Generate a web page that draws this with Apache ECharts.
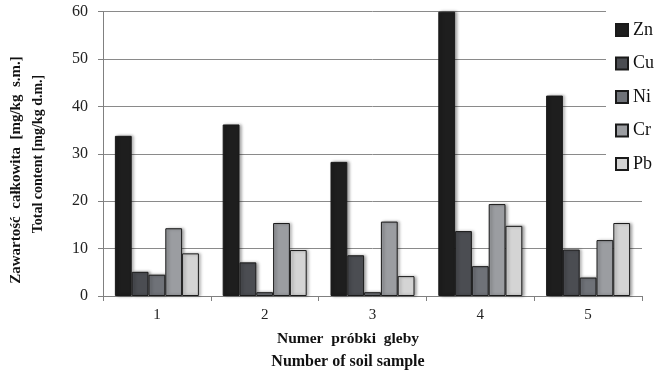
<!DOCTYPE html>
<html>
<head>
<meta charset="utf-8">
<script src="https://cdn.jsdelivr.net/npm/echarts@6/dist/echarts.min.js"></script>
<style>html,body{margin:0;padding:0;background:#fff}#c{width:662px;height:374px}</style>
</head>
<body>
<div id="c"></div>
<script>
var categories = ['1', '2', '3', '4', '5'];
var seriesNames = ['Zn', 'Cu', 'Ni', 'Cr', 'Pb'];
var zn = [33.8, 36.2, 28.3, 60, 42.3];
var cu = [5.1, 7.1, 8.6, 13.7, 9.8];
var ni = [4.5, 0.8, 0.8, 6.3, 3.9];
var cr = [14.3, 15.4, 15.7, 19.4, 11.8];
var pb = [9.0, 9.7, 4.2, 14.8, 15.4];
var yTicks = [0, 10, 20, 30, 40, 50, 60];

var values = [zn, cu, ni, cr, pb];
var colors = ['#1e1e1e', '#4b4d52', '#6f7278', '#9b9da1', '#d4d4d4'];
var FONT = '"Liberation Serif", "Times New Roman", serif';

var chart = echarts.init(document.getElementById('c'), null, {renderer: 'canvas'});
var series = seriesNames.map(function (n, i) {
  return {
    name: n,
    type: 'bar',
    data: values[i],
    barWidth: 16.8,
    barGap: '0%',
    itemStyle: {
      color: colors[i],
      borderColor: '#1a1a1a',
      borderWidth: 1,
      shadowColor: 'rgba(0,0,0,0.35)',
      shadowBlur: 3,
      shadowOffsetX: 2,
      shadowOffsetY: 0
    }
  };
});

chart.setOption({
  animation: false,
  backgroundColor: '#fff',
  grid: {left: 103, right: 20, top: 11.7, bottom: 78, containLabel: false},
  xAxis: {
    type: 'category',
    data: categories,
    axisLine: {lineStyle: {color: '#808080', width: 1}},
    axisTick: {show: true, length: 5, lineStyle: {color: '#808080'}},
    axisLabel: {fontFamily: FONT, fontSize: 15, color: '#222', margin: 12}
  },
  yAxis: {
    type: 'value',
    min: yTicks[0],
    max: yTicks[yTicks.length - 1],
    interval: 10,
    axisLine: {show: true, lineStyle: {color: '#808080', width: 1}},
    axisTick: {show: true, length: 5, lineStyle: {color: '#808080'}},
    splitLine: {lineStyle: {color: '#8a8a8a', width: 1}},
    axisLabel: {fontFamily: FONT, fontSize: 16, color: '#222', margin: 15}
  },
  legend: {
    orient: 'vertical',
    left: 606,
    top: 11,
    padding: [10, 6, 12, 9],
    backgroundColor: '#fff',
    itemWidth: 12,
    itemHeight: 12,
    itemGap: 15.5,
    icon: 'rect',
    data: seriesNames,
    textStyle: {fontFamily: FONT, fontSize: 18, color: '#111'}
  },
  graphic: [
    {
      type: 'text', x: 16, y: 170, rotation: Math.PI / 2,
      style: {text: 'Zawartość  całkowita  [mg/kg  s.m.]', fontFamily: FONT, fontWeight: 'bold', fontSize: 15, fill: '#111', align: 'center', verticalAlign: 'middle'}
    },
    {
      type: 'text', x: 38, y: 154, rotation: Math.PI / 2,
      style: {text: 'Total content [mg/kg d.m.]', fontFamily: FONT, fontWeight: 'bold', fontSize: 14, fill: '#111', align: 'center', verticalAlign: 'middle'}
    },
    {
      type: 'text', x: 348, y: 339,
      style: {text: 'Numer  próbki  gleby', fontFamily: FONT, fontWeight: 'bold', fontSize: 15.5, fill: '#111', align: 'center', verticalAlign: 'middle'}
    },
    {
      type: 'text', x: 348, y: 362,
      style: {text: 'Number of soil sample', fontFamily: FONT, fontWeight: 'bold', fontSize: 16, fill: '#111', align: 'center', verticalAlign: 'middle'}
    }
  ],
  series: series
});
</script>
</body>
</html>
